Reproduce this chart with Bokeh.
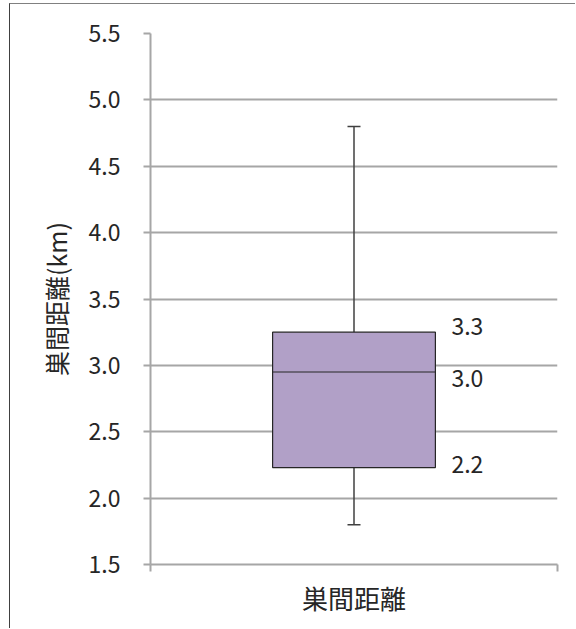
from bokeh.plotting import figure
from bokeh.models import ColumnDataSource, FixedTicker, Range1d, NumeralTickFormatter
from bokeh.core.properties import value
from bokeh.embed import file_html
from bokeh.resources import INLINE

# ---- data ----
categories = ["巣間距離"]
y_title = "巣間距離(km)"
whisker_low = [1.8]
q1 = [2.23]
median = [2.95]
q3 = [3.25]
whisker_high = [4.8]
value_labels = ["3.3", "3.0", "2.2"]
value_label_y = [3.25, 2.95, 2.23]
y_ticks = [1.5, 2.0, 2.5, 3.0, 3.5, 4.0, 4.5, 5.0, 5.5]

# ---- style ----
FONT = "Noto Sans CJK JP"
GRID = "#a6a6a6"
BOX_FILL = "#b1a0c7"
DARK = "#262626"
box_width = 0.4
label_dy = [-6, 6, -3]

xpos = [i + 0.5 for i in range(len(categories))]

p = figure(width=566, height=625, output_backend="svg", toolbar_location=None,
           x_range=Range1d(0, len(categories)), y_range=Range1d(y_ticks[0], y_ticks[-1]),
           min_border_left=140, min_border_right=19, min_border_top=29, min_border_bottom=65)
p.styles = {"margin-left": "9px", "margin-top": "3px",
            "border-left": "1px solid #404040", "border-top": "1px solid #808080"}
p.outline_line_color = None
p.background_fill_color = "white"
p.border_fill_color = "white"

# axes
p.xaxis.ticker = FixedTicker(ticks=xpos, minor_ticks=[float(i) for i in range(len(categories) + 1)])
p.xaxis.major_label_overrides = {x: c for x, c in zip(xpos, categories)}
p.xaxis.major_tick_line_color = None
p.xaxis.major_tick_out = 0
p.xaxis.major_tick_in = 0
p.xaxis.minor_tick_out = 7
p.xaxis.minor_tick_in = 0
p.xaxis.minor_tick_line_color = GRID
p.xaxis.minor_tick_line_width = 2
p.xaxis.axis_line_color = GRID
p.xaxis.axis_line_width = 2
p.xaxis.major_label_standoff = 7
p.xaxis.major_label_text_font = FONT
p.xaxis.major_label_text_font_size = "26px"
p.xaxis.major_label_text_color = DARK

p.yaxis.ticker = FixedTicker(ticks=y_ticks, minor_ticks=[])
p.yaxis.formatter = NumeralTickFormatter(format="0.0")
p.yaxis.axis_line_color = GRID
p.yaxis.axis_line_width = 2
p.yaxis.major_tick_line_color = GRID
p.yaxis.major_tick_line_width = 2
p.yaxis.major_tick_out = 7
p.yaxis.major_tick_in = 0
p.yaxis.major_label_standoff = 23
p.yaxis.major_label_text_font = FONT
p.yaxis.major_label_text_font_size = "23px"
p.yaxis.major_label_text_color = DARK
p.yaxis.axis_label = y_title
p.yaxis.axis_label_text_font = FONT
p.yaxis.axis_label_text_font_size = "25px"
p.yaxis.axis_label_text_font_style = "normal"
p.yaxis.axis_label_text_color = DARK
p.yaxis.axis_label_standoff = 12

p.xgrid.grid_line_color = None
p.ygrid.grid_line_color = GRID
p.ygrid.grid_line_width = 2

# box plot
src = ColumnDataSource(dict(x=xpos, lo=whisker_low, q1=q1, med=median, q3=q3, hi=whisker_high,
                            left=[x - box_width / 2 for x in xpos],
                            right=[x + box_width / 2 for x in xpos]))
p.segment(x0="x", y0="lo", x1="x", y1="q1", source=src, line_color="#404040", line_width=1.5)
p.segment(x0="x", y0="q3", x1="x", y1="hi", source=src, line_color="#404040", line_width=1.5)
p.scatter(x="x", y="lo", source=src, marker="dash", size=13, line_color="#404040", line_width=1.5)
p.scatter(x="x", y="hi", source=src, marker="dash", size=13, line_color="#404040", line_width=1.5)
p.vbar(x="x", width=box_width, bottom="q1", top="q3", source=src,
       fill_color=BOX_FILL, line_color=DARK, line_width=1.2)
p.segment(x0="left", y0="med", x1="right", y1="med", source=src, line_color=DARK, line_width=1.2)

# value labels
lab = ColumnDataSource(dict(x=[xpos[0] + box_width / 2] * len(value_labels), y=value_label_y,
                            text=value_labels, dy=label_dy))
p.text(x="x", y="y", text="text", source=lab, x_offset=16, y_offset="dy",
       text_align="left", text_baseline="middle", text_font=value(FONT),
       text_font_size="23px", text_color=DARK)

open("out.html", "w").write(file_html(p, INLINE))
